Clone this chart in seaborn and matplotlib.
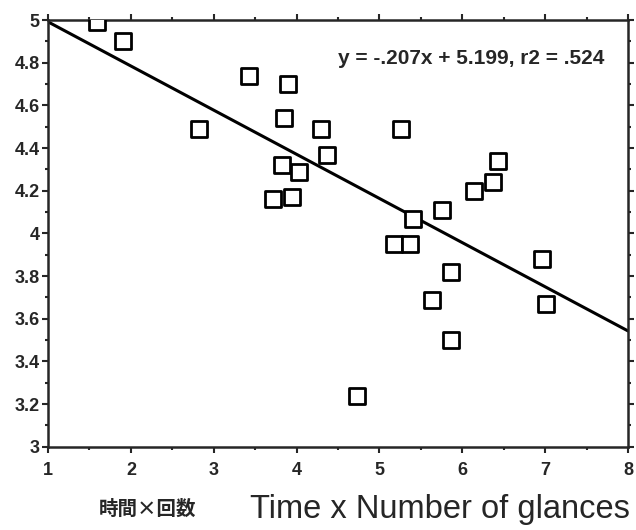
import numpy as np
import pandas as pd
import matplotlib
matplotlib.use("Agg")
import matplotlib.pyplot as plt
from matplotlib.ticker import MultipleLocator, FuncFormatter
import seaborn as sns

# -----------------------------------
# Data
# -----------------------------------

time_x_glances = [1.59, 1.90, 2.82, 3.42, 3.90, 3.85, 4.29, 3.82, 4.03,
                  4.37, 3.71, 3.94, 5.26, 6.43, 6.37, 6.14, 5.75, 5.40,
                  5.17, 5.37, 6.96, 5.86, 5.63, 7.01, 5.86, 4.73]
rating = [4.99, 4.90, 4.49, 4.74, 4.70, 4.54, 4.49, 4.32, 4.29,
          4.37, 4.16, 4.17, 4.49, 4.34, 4.24, 4.20, 4.11, 4.07,
          3.95, 3.95, 3.88, 3.82, 3.69, 3.67, 3.50, 3.24]

slope = -0.207
intercept = 5.199
fit_x = [1, 8]

df = pd.DataFrame({"x": time_x_glances, "y": rating})
fit = pd.DataFrame({"x": fit_x, "y": [slope * v + intercept for v in fit_x]})

# -----------------------------------
# Plot
# -----------------------------------

sns.set_style("ticks")
plt.rcParams["font.family"] = ["Liberation Sans", "Noto Sans CJK JP"]

fig = plt.figure(figsize=(6.36, 5.30), dpi=100)
ax = fig.add_axes([0.0755, 0.157, 0.912, 0.805])

sns.lineplot(data=fit, x="x", y="y", color="black", linewidth=2.2, ax=ax)
sns.scatterplot(data=df, x="x", y="y", marker="s", s=120,
                facecolor="white", edgecolor="black", linewidth=2.0,
                zorder=3, ax=ax)

ax.set_xlim(1, 8)
ax.set_ylim(3, 5)
ax.xaxis.set_major_locator(MultipleLocator(1))
ax.xaxis.set_minor_locator(MultipleLocator(0.5))
ax.yaxis.set_major_locator(MultipleLocator(0.2))
ax.yaxis.set_minor_locator(MultipleLocator(0.1))
ax.yaxis.set_major_formatter(FuncFormatter(lambda v, p: f"{v:g}"))

for side in ax.spines.values():
    side.set_linewidth(1.8)
    side.set_visible(True)

ax.tick_params(which="both", direction="out", top=True, right=True,
               width=1.5, labelsize=13, pad=2)
ax.tick_params(axis="x", which="major", pad=7)
ax.tick_params(which="major", length=4)
ax.tick_params(which="minor", length=2.5)
for lab in ax.get_xticklabels() + ax.get_yticklabels():
    lab.set_fontweight("bold")

ax.set_xlabel("")
ax.set_ylabel("")

ax.text(0.96, 0.911, "y = -.207x + 5.199, r2 = .524", transform=ax.transAxes,
        ha="right", va="center", fontsize=15, fontweight="bold")

fig.text(0.232, 0.040, "時間×回数", ha="center", va="center",
         fontsize=14, fontweight="bold",
         family=["Noto Sans CJK JP", "DejaVu Sans"])
fig.text(0.692, 0.038, "Time x Number of glances", ha="center", va="center",
         fontsize=23.5)

fig.savefig("out.png", dpi=100, facecolor="white")
